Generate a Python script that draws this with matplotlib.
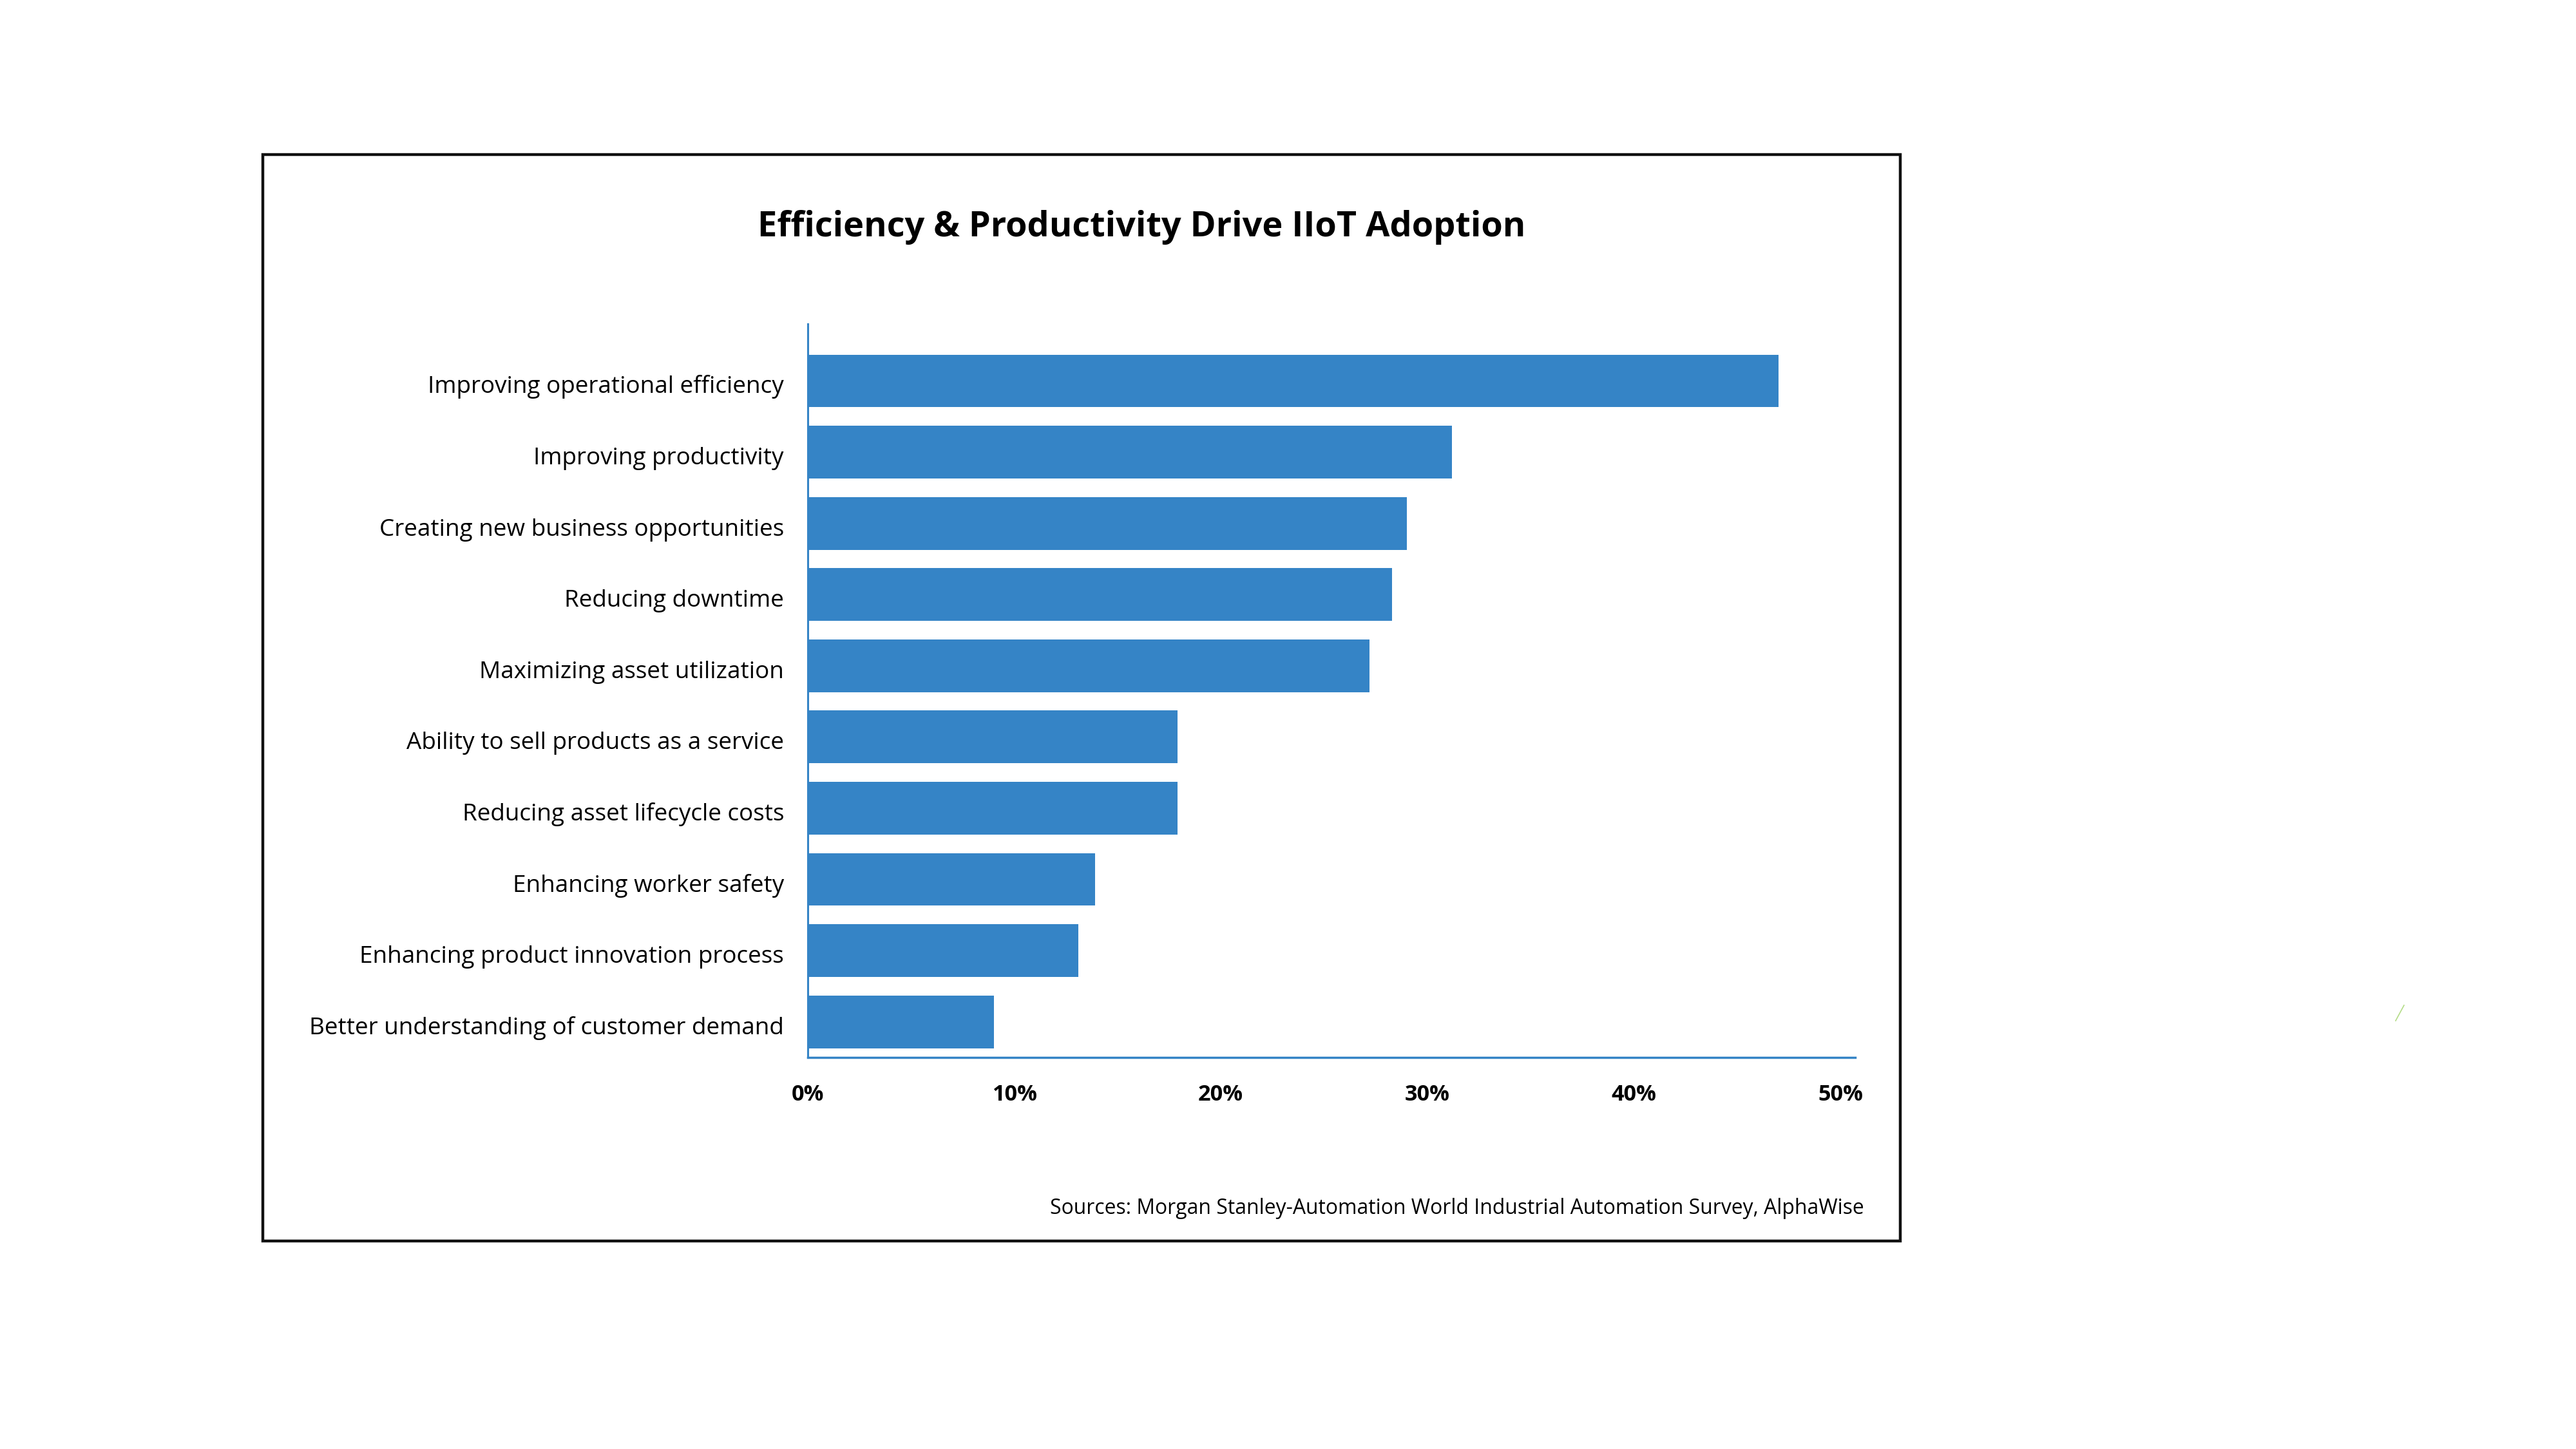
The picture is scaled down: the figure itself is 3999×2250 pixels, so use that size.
import matplotlib
matplotlib.use("Agg")
import matplotlib.pyplot as plt
from matplotlib.patches import Rectangle
from matplotlib.lines import Line2D
from matplotlib.transforms import blended_transform_factory, ScaledTranslation

plt.rcParams['font.family'] = ['Open Sans', 'DejaVu Sans']

# ---- data ----
categories = [
    "Improving operational efficiency",
    "Improving productivity",
    "Creating new business opportunities",
    "Reducing downtime",
    "Maximizing asset utilization",
    "Ability to sell products as a service",
    "Reducing asset lifecycle costs",
    "Enhancing worker safety",
    "Enhancing product innovation process",
    "Better understanding of customer demand",
]
values = [47.0, 31.2, 29.0, 28.3, 27.2, 17.9, 17.9, 13.9, 13.1, 9.0]
tick_values = [0, 10, 20, 30, 40, 50]
tick_labels = ["0%", "10%", "20%", "30%", "40%", "50%"]
title = "Efficiency & Productivity Drive IIoT Adoption"
source = "Sources: Morgan Stanley-Automation World Industrial Automation Survey, AlphaWise"

W, H = 3999, 2250
DPI = 100
fig = plt.figure(figsize=(W / DPI, H / DPI), dpi=DPI)
fig.patch.set_facecolor("white")
PT = 72.0 / DPI  # points per pixel

BLUE = "#3584c6"

# axes placed in pixel coordinates of the reference
ax_left, ax_right, ax_top, ax_bottom = 1254, 2880, 503, 1642
ax = fig.add_axes([ax_left / W, 1 - ax_bottom / H,
                   (ax_right - ax_left) / W, (ax_bottom - ax_top) / H])

ypos = list(range(len(categories)))
ax.barh(ypos, values, height=0.74, color=BLUE, edgecolor="none")
ax.set_xlim(0, 50.72)
ax.set_ylim(9.50, -0.80)

for s in ["top", "right"]:
    ax.spines[s].set_visible(False)
ax.spines["left"].set_color(BLUE)
ax.spines["left"].set_linewidth(2.2)
ax.spines["bottom"].set_color(BLUE)
ax.spines["bottom"].set_linewidth(2.5)

# y category labels: right aligned, baseline slightly below bar centre
ax.set_yticks(ypos)
ax.set_yticklabels([])
ax.tick_params(axis="y", length=0)
lab_trans = blended_transform_factory(ax.transAxes, ax.transData) + \
    ScaledTranslation(-37 / DPI, -19 / DPI, fig.dpi_scale_trans)
cat_texts = [ax.text(0, y, c, ha="right", va="baseline", transform=lab_trans,
                     fontsize=24, color="black")
             for y, c in zip(ypos, categories)]

ax.set_xticks(tick_values)
ax.set_xticklabels(tick_labels)
ax.tick_params(axis="x", length=0, pad=67 * PT)
for lbl in ax.get_xticklabels():
    lbl.set_fontweight("bold")
    lbl.set_va("baseline")

t_title = fig.text(1772 / W, 1 - 367 / H, title, ha="center", va="baseline",
                   fontweight="bold", fontsize=40)
t_src = fig.text(2894 / W, 1 - 1885 / H, source, ha="right", va="baseline",
                 fontsize=20)

# frame border
fig.add_artist(Rectangle((408 / W, 1 - 1927 / H), (2950 - 408) / W, (1927 - 240) / H,
                         transform=fig.transFigure, fill=False,
                         edgecolor="#111111", linewidth=3.2))

# stray small mark in the reference
fig.add_artist(Line2D([3719 / W, 3732 / W], [1 - 1585 / H, 1 - 1561 / H],
                      transform=fig.transFigure, color="#b3dc86", linewidth=1.2))

# fit font sizes to measured widths
renderer = fig.canvas.get_renderer()

def fit(text_obj, target_px):
    fs = text_obj.get_fontsize()
    w = text_obj.get_window_extent(renderer).width
    text_obj.set_fontsize(fs * target_px / w)
    return text_obj.get_fontsize()

fit(t_title, 1192)
fit(t_src, 1261)
lab_fs = fit(cat_texts[-1], 740)
for t in cat_texts:
    t.set_fontsize(lab_fs)

probe = fig.text(0, 0, "50%", fontsize=20, fontweight="bold")
w = probe.get_window_extent(renderer).width
tick_fs = 20 * 70 / w
probe.remove()
for lbl in ax.get_xticklabels():
    lbl.set_fontsize(tick_fs)

fig.savefig("out.png", dpi=DPI, facecolor="white")
